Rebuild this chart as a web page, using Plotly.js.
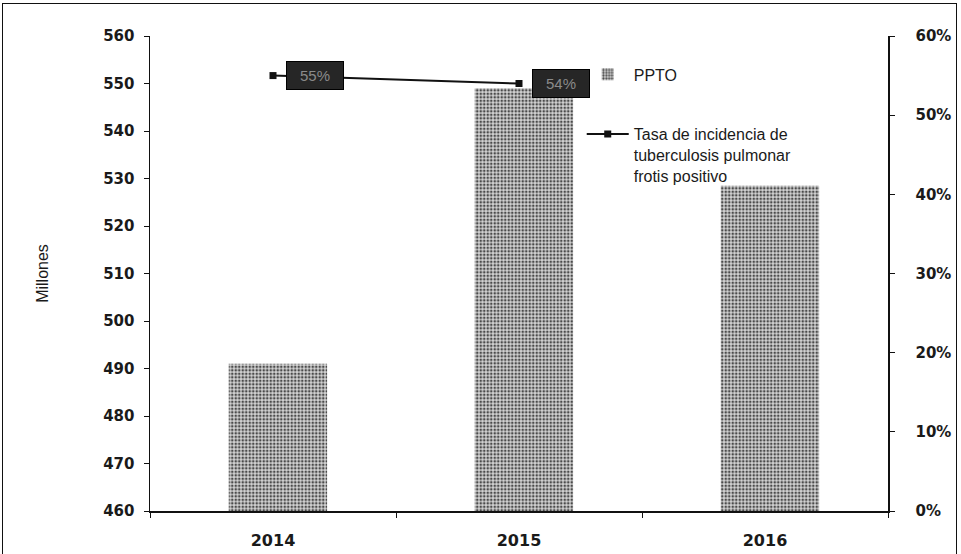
<!DOCTYPE html>
<html>
<head>
<meta charset="utf-8">
<script src="https://cdn.plot.ly/plotly-3.0.1.min.js"></script>
<style>
  html, body { margin: 0; padding: 0; background: #fff; }
  #frame { position: absolute; left: 2px; top: 3px; width: 955px; height: 560px; border: 1px solid #111; box-sizing: border-box; }
  #chart { position: absolute; left: 0; top: 0; width: 961px; height: 554px; }
</style>
</head>
<body>
<div id="frame"></div>
<div id="chart"></div>
<script>
// ---- data ----
const years = ['2014', '2015', '2016'];
const ppto = [491, 549, 528.5];                 // millones
const rateYears = ['2014', '2015'];
const rates = [0.55, 0.54];                      // tasa de incidencia
const rateLabels = ['55%', '54%'];
const seriesNames = ['PPTO', 'Tasa de incidencia de<br>tuberculosis pulmonar<br>frotis positivo'];

const fam = 'Liberation Sans, Arial, sans-serif';
const tickFam = 'DejaVu Sans, Liberation Sans, sans-serif';
const yTickFont = { family: tickFam, size: 15, color: '#1a1a1a', weight: 'bold' };
const xTickFont = { family: tickFam, size: 16, color: '#1a1a1a', weight: 'bold' };

const traces = [
  {
    type: 'bar',
    x: years,
    y: ppto,
    name: seriesNames[0],
    legendgroup: 'a',
    width: 0.4,
    offset: -0.18,
    marker: {
      color: '#d0d0d0',
      line: { width: 0 },
      pattern: { shape: '.', fgcolor: '#4a4a4a', bgcolor: '#d4d4d4', size: 3.5, solidity: 0.45 }
    },
    yaxis: 'y'
  },
  {
    type: 'scatter',
    mode: 'lines+markers',
    x: rateYears,
    y: rates,
    name: seriesNames[1],
    legendgroup: 'b',
    line: { color: '#111', width: 2 },
    marker: { symbol: 'square', size: 7, color: '#111' },
    yaxis: 'y2'
  }
];

const annotations = rateYears.map((yr, i) => ({
  x: years.indexOf(yr), y: rates[i], xref: 'x', yref: 'y2',
  text: rateLabels[i], showarrow: false,
  xanchor: 'left', yanchor: 'middle', xshift: 13,
  bgcolor: '#262626', bordercolor: '#000', borderwidth: 1, borderpad: 5,
  width: 46,
  font: { family: fam, size: 15, color: '#8a8a8a' }
}));

const layout = {
  width: 961, height: 554,
  margin: { l: 150, r: 73, t: 36, b: 43 },
  paper_bgcolor: 'rgba(0,0,0,0)',
  plot_bgcolor: 'rgba(0,0,0,0)',
  font: { family: fam, size: 13, color: '#1a1a1a' },
  showlegend: true,
  legend: {
    x: 0.585, y: 0.955, xanchor: 'left', yanchor: 'top',
    bgcolor: 'rgba(0,0,0,0)',
    itemwidth: 42,
    traceorder: 'grouped', tracegroupgap: 36, valign: 'top',
    font: { family: fam, size: 16, color: '#1a1a1a' }
  },
  xaxis: {
    type: 'category',
    categoryorder: 'array', categoryarray: years,
    range: [-0.5, years.length - 0.5],
    showline: true, linecolor: '#111', linewidth: 1.5,
    ticks: 'outside', ticklen: 5, tickcolor: '#111', tickson: 'boundaries',
    ticklabelstandoff: 14,
    showgrid: false, zeroline: false,
    tickfont: xTickFont
  },
  yaxis: {
    range: [460, 560], dtick: 10, tick0: 460,
    showline: true, linecolor: '#111', linewidth: 1.5,
    ticks: 'outside', ticklen: 5, tickcolor: '#111',
    ticklabelstandoff: 6,
    showgrid: false, zeroline: false,
    tickfont: yTickFont,
    title: { text: 'Millones', font: { family: fam, size: 16, color: '#1a1a1a' }, standoff: 50 }
  },
  yaxis2: {
    overlaying: 'y', side: 'right',
    range: [0, 0.6], dtick: 0.1, tick0: 0, tickformat: '.0%',
    showline: true, linecolor: '#111', linewidth: 1.5,
    ticks: 'outside', ticklen: 5, tickcolor: '#111',
    ticklabelstandoff: 18,
    showgrid: false, zeroline: false,
    tickfont: yTickFont
  },
  annotations: annotations
};

Plotly.newPlot('chart', traces, layout, { displayModeBar: false, staticPlot: true });
</script>
</body>
</html>
